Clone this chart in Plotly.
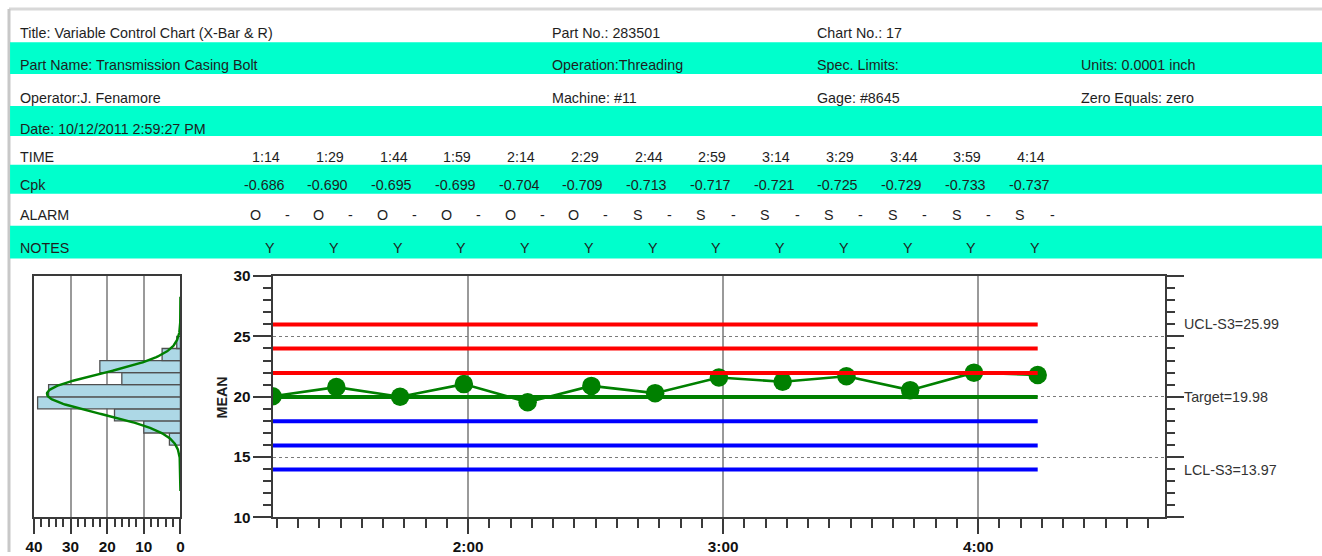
import numpy as np
import plotly.graph_objects as go

# the page adds an 8px body margin and the snapshot is slightly shrunk;
# layout positions below are given in snapshot pixels and converted here
PAD = 8
SX, SY = 0.994, 0.972
W, H = 1340, 560

# ---- header table ----
header_rows = [
    ["Title: Variable Control Chart (X-Bar & R)", "Part No.: 283501", "Chart No.: 17", ""],
    ["Part Name: Transmission Casing Bolt", "Operation:Threading", "Spec. Limits:", "Units: 0.0001 inch"],
    ["Operator:J. Fenamore", "Machine: #11", "Gage: #8645", "Zero Equals: zero"],
    ["Date: 10/12/2011 2:59:27 PM", "", "", ""],
]
times = ["1:14", "1:29", "1:44", "1:59", "2:14", "2:29", "2:44",
         "2:59", "3:14", "3:29", "3:44", "3:59", "4:14"]
cpk = ["-0.686", "-0.690", "-0.695", "-0.699", "-0.704", "-0.709", "-0.713",
       "-0.717", "-0.721", "-0.725", "-0.729", "-0.733", "-0.737"]
alarm = ["O", "O", "O", "O", "O", "O", "S", "S", "S", "S", "S", "S", "S"]
notes = ["Y", "Y", "Y", "Y", "Y", "Y", "Y", "Y", "Y", "Y", "Y", "Y", "Y"]

# ---- X-bar chart ----
sample_means = [20.05, 20.8, 20.0, 21.05, 19.55, 20.9, 20.3, 21.6, 21.25, 21.7, 20.55, 22.0, 21.8]
target = 19.98
ucl_s3 = 25.99
lcl_s3 = 13.97
upper_limits = [25.99, 23.99, 21.98]
lower_limits = [17.98, 15.97, 13.97]
x_start, x_end = "2011-10-12 01:14", "2011-10-12 04:44"

# ---- frequency histogram of measurements ----
hist_centers = [16.5, 17.5, 18.5, 19.5, 20.5, 21.5, 22.5, 23.5, 24.5]
hist_counts = [3, 10, 18, 39, 36, 16, 22, 5, 1]

CYAN = "#00FFCC"
TXT = "#1e1e1e"
AX = "#3a3a3a"


def X(r):
    return (r / SX - PAD) / W


def Y(r):
    return 1 - (r / SY - PAD) / H


def LX(n):
    return n / SX


def LY(n):
    return n / SY


def stamp(t):
    h, m = t.split(":")
    return f"2011-10-12 {int(h):02d}:{m}"


xs = [stamp(t) for t in times]

fig = go.Figure()

# histogram bars growing leftwards from zero
fig.add_trace(go.Bar(
    y=hist_centers, x=hist_counts, orientation="h", width=1,
    marker=dict(color="#ADD8E6", line=dict(color="#505050", width=1.3)),
    xaxis="x", yaxis="y", hoverinfo="skip"))

# fitted normal curve over the histogram
c = np.array(hist_centers)
n = np.array(hist_counts)
N = n.sum()
mu = (c * n).sum() / N
sd = np.sqrt(((c - mu) ** 2 * n).sum() / N)
yy = np.linspace(mu - 4.9 * sd, mu + 4.9 * sd, 300)
xx = N * 1.0 / (sd * np.sqrt(2 * np.pi)) * np.exp(-0.5 * ((yy - mu) / sd) ** 2)
fig.add_trace(go.Scatter(x=xx, y=yy, mode="lines", line=dict(color="#008000", width=2.4),
                         xaxis="x", yaxis="y", hoverinfo="skip"))

# sample means
fig.add_trace(go.Scatter(x=xs, y=sample_means, mode="lines+markers",
                         line=dict(color="#008000", width=2.6),
                         marker=dict(color="#008000", size=18.5),
                         xaxis="x2", yaxis="y2"))

# control limit lines
for v in upper_limits:
    fig.add_trace(go.Scatter(x=[xs[0], xs[-1]], y=[v, v], mode="lines",
                             line=dict(color="#FF0000", width=4), xaxis="x2", yaxis="y2"))
fig.add_trace(go.Scatter(x=[xs[0], xs[-1]], y=[target, target], mode="lines",
                         line=dict(color="#008000", width=4), xaxis="x2", yaxis="y2"))
for v in lower_limits:
    fig.add_trace(go.Scatter(x=[xs[0], xs[-1]], y=[v, v], mode="lines",
                             line=dict(color="#0000FF", width=4), xaxis="x2", yaxis="y2"))

shapes = []
# outer frame
shapes.append(dict(type="line", xref="paper", yref="paper", x0=0, x1=1, y0=1, y1=1,
                   line=dict(color="#d8d8d8", width=3), layer="below"))
shapes.append(dict(type="line", xref="paper", yref="paper", x0=0, x1=0, y0=1, y1=0,
                   line=dict(color="#c8c8c8", width=3), layer="below"))
# shaded table rows
for top, bot in [(41, 73), (105, 135), (164, 193), (225, 258)]:
    shapes.append(dict(type="rect", xref="paper", yref="paper", x0=X(9), x1=1,
                       y0=Y(bot), y1=Y(top), fillcolor=CYAN, line=dict(width=0), layer="below"))

FS = 14.3
ann = []
font = dict(family="Arial", size=FS, color=TXT)
col_x = [17, 551, 817, 1082]
row_y = [32, 64, 97, 128]
for r, row in enumerate(header_rows):
    for ci, txt in enumerate(row):
        if txt:
            ann.append(dict(x=X(col_x[ci]), y=Y(row_y[r]), xref="paper", yref="paper",
                            text=txt, showarrow=False, xanchor="left", yanchor="middle", font=font))

for label, yy_ in [("TIME", 156), ("Cpk", 184), ("ALARM", 214), ("NOTES", 247)]:
    ann.append(dict(x=X(17), y=Y(yy_), xref="paper", yref="paper", text=label,
                    showarrow=False, xanchor="left", yanchor="middle", font=font))

step = 64
for i in range(len(times)):
    ann.append(dict(x=X(266 + step * i), y=Y(156), xref="paper", yref="paper", text=times[i],
                    showarrow=False, xanchor="center", yanchor="middle", font=font))
    ann.append(dict(x=X(264 + step * i), y=Y(184), xref="paper", yref="paper", text=cpk[i],
                    showarrow=False, xanchor="center", yanchor="middle", font=font))
    ann.append(dict(x=X(255 + step * i), y=Y(214), xref="paper", yref="paper", text=alarm[i],
                    showarrow=False, xanchor="center", yanchor="middle", font=font))
    ann.append(dict(x=X(287 + step * i), y=Y(214), xref="paper", yref="paper", text="-",
                    showarrow=False, xanchor="center", yanchor="middle", font=font))
    ann.append(dict(x=X(270 + step * i), y=Y(247), xref="paper", yref="paper", text=notes[i],
                    showarrow=False, xanchor="center", yanchor="middle", font=font))

# axis title and limit labels
ann.append(dict(x=X(222), y=Y(397), xref="paper", yref="paper", text="MEAN", textangle=-90,
                showarrow=False, xanchor="center", yanchor="middle",
                font=dict(family="Arial", size=FS, color=TXT, weight="bold")))
for txt, v in [(f"UCL-S3={ucl_s3:.2f}", ucl_s3), (f"Target={target:.2f}", target),
               (f"LCL-S3={lcl_s3:.2f}", lcl_s3)]:
    ann.append(dict(x=X(1185), y=v, xref="paper", yref="y2", text=txt, showarrow=False,
                    xanchor="left", yanchor="middle",
                    font=dict(family="Arial", size=FS, color="#333")))

tickfont = dict(family="Arial", size=15.3, color="#111", weight="bold")
plot_dom = [Y(517.5), Y(275.5)]

fig.update_layout(
    width=W, height=H, autosize=False,
    margin=dict(l=0, r=0, t=0, b=0),
    paper_bgcolor="white", plot_bgcolor="white",
    showlegend=False,
    shapes=shapes, annotations=ann,
    xaxis=dict(domain=[X(33), X(180)], range=[40, 0], anchor="y",
               showline=True, mirror=True, linecolor=AX, linewidth=2,
               ticks="outside", ticklen=LY(14), tickwidth=2, tickcolor=AX,
               tick0=0, dtick=10, tickfont=tickfont,
               minor=dict(dtick=2, ticks="outside", ticklen=LY(7), tickwidth=1.5,
                          tickcolor=AX, showgrid=False),
               showgrid=True, gridcolor="#9a9a9a", gridwidth=1.5, zeroline=False),
    yaxis=dict(domain=plot_dom, range=[10, 30], anchor="x",
               showline=True, mirror=True, linecolor=AX, linewidth=2,
               showticklabels=False, ticks="", showgrid=False, zeroline=False),
    xaxis2=dict(domain=[X(272.5), X(1168.5)], type="date", range=[x_start, x_end],
                anchor="y2", showline=True, mirror=True, linecolor=AX, linewidth=2,
                ticks="outside", ticklen=LY(14), tickwidth=2, tickcolor=AX,
                tick0="2011-10-12 00:00", dtick=3600000, tickformat="%-H:%M",
                tickfont=tickfont,
                minor=dict(dtick=300000, ticks="outside", ticklen=LY(8), tickwidth=1.5,
                           tickcolor=AX, showgrid=False),
                showgrid=True, gridcolor="#9a9a9a", gridwidth=1.5, zeroline=False),
    yaxis2=dict(domain=plot_dom, range=[10, 30], anchor="x2",
                showline=True, mirror="ticks", linecolor=AX, linewidth=2,
                ticks="outside", ticklen=LX(17), tickwidth=2, tickcolor=AX,
                tick0=0, dtick=5, tickfont=tickfont,
                minor=dict(dtick=1, ticks="outside", ticklen=LX(8), tickwidth=1.5,
                           tickcolor=AX, showgrid=False),
                showgrid=True, gridcolor="#7a7a7a", gridwidth=1, griddash="dot",
                zeroline=False),
)

fig.write_html("out.html")
